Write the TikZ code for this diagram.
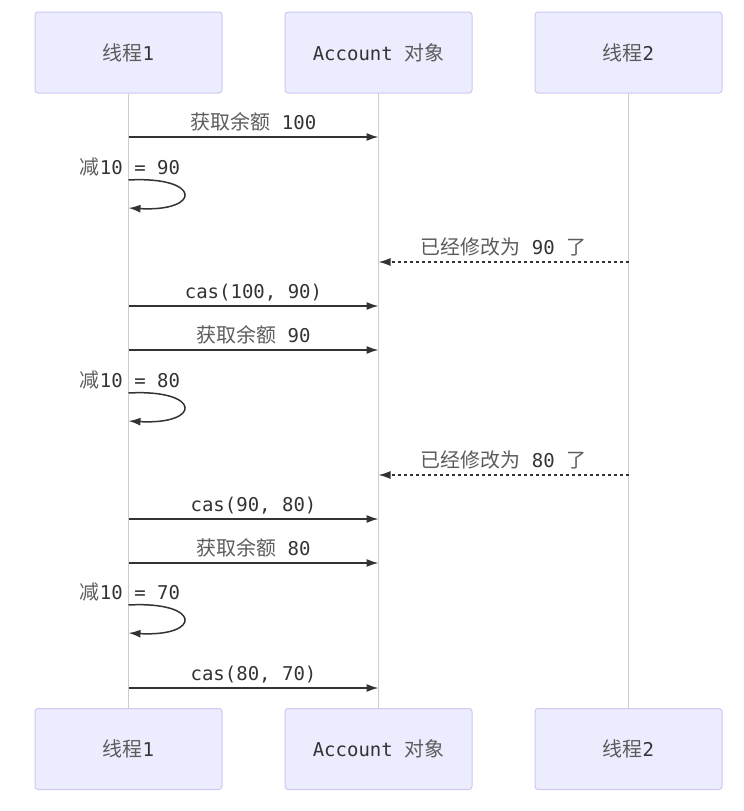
\documentclass[tikz,border=0pt]{standalone}
\usepackage{fontspec}
\setmonofont{DejaVu Sans Mono}
\newfontfamily\cjk[Scale=1.05]{Noto Sans CJK SC}
\usepackage{tikz}
\usetikzlibrary{arrows.meta,positioning}
\definecolor{actorfill}{RGB}{236,236,255}
\definecolor{actorline}{RGB}{206,200,240}
\definecolor{lifegray}{RGB}{204,204,204}
\definecolor{msgdark}{RGB}{51,51,51}
\newcommand{\zh}[1]{{\cjk\color{msgdark!80!white}#1}}

\begin{document}
\begin{tikzpicture}[x=1pt, y=-1pt, font=\fontsize{19}{22}\selectfont\ttfamily,
  actor/.style={draw=actorline, fill=actorfill, rounded corners=3pt, line width=1pt,
    minimum width=187pt, minimum height=81pt, inner sep=0pt, text=msgdark},
  life/.style={draw=lifegray, line width=1pt},
  msg/.style={draw=msgdark, line width=1.5pt, -{Latex[length=12pt,width=8pt]}},
  reply/.style={msg, dash pattern=on 3pt off 3pt},
  lbl/.style={anchor=base, yshift=8pt, inner sep=0pt, text=msgdark}]

\useasboundingbox (0,0) rectangle (744,811);

% 1. Actors (top and bottom)
\node[actor] (t1) at (128.5,52.5) {\zh{线程}1};
\node[actor] (acc) at (378.5,52.5) {Account \zh{对象}};
\node[actor] (t2) at (628.5,52.5) {\zh{线程}2};
\node[actor] (t1b) at (128.5,749) {\zh{线程}1};
\node[actor] (accb) at (378.5,749) {Account \zh{对象}};
\node[actor] (t2b) at (628.5,749) {\zh{线程}2};

% 2. Lifelines
\draw[life] (t1) -- (t1b);
\draw[life] (acc) -- (accb);
\draw[life] (t2) -- (t2b);

% 3. First round
\coordinate (g1s) at (128.5,137); \coordinate (g1e) at (378.5,137);
\draw[msg] (g1s) -- node[lbl] (g1l) {\zh{获取余额} 100} (g1e);
\coordinate (d1s) at (128.5,180); \coordinate (d1e) at (128.5,208);
\node[anchor=base, inner sep=0pt, text=msgdark] (d1l) at (130,174) {\zh{减}10 = 90};
\draw[msg] (d1s) .. controls (202,176) and (202,212) .. (d1e);
\coordinate (u1s) at (628.5,262); \coordinate (u1e) at (378.5,262);
\draw[reply] (u1s) -- node[lbl] (u1l) {\zh{已经修改为} 90 \zh{了}} (u1e);
\coordinate (c1s) at (128.5,306); \coordinate (c1e) at (378.5,306);
\draw[msg] (c1s) -- node[lbl] (c1l) {cas(100, 90)} (c1e);

% 4. Second round
\coordinate (g2s) at (128.5,350); \coordinate (g2e) at (378.5,350);
\draw[msg] (g2s) -- node[lbl] (g2l) {\zh{获取余额} 90} (g2e);
\coordinate (d2s) at (128.5,393); \coordinate (d2e) at (128.5,421);
\node[anchor=base, inner sep=0pt, text=msgdark] (d2l) at (130,387) {\zh{减}10 = 80};
\draw[msg] (d2s) .. controls (202,389) and (202,425) .. (d2e);
\coordinate (u2s) at (628.5,475); \coordinate (u2e) at (378.5,475);
\draw[reply] (u2s) -- node[lbl] (u2l) {\zh{已经修改为} 80 \zh{了}} (u2e);
\coordinate (c2s) at (128.5,519); \coordinate (c2e) at (378.5,519);
\draw[msg] (c2s) -- node[lbl] (c2l) {cas(90, 80)} (c2e);

% 5. Third round
\coordinate (g3s) at (128.5,563); \coordinate (g3e) at (378.5,563);
\draw[msg] (g3s) -- node[lbl] (g3l) {\zh{获取余额} 80} (g3e);
\coordinate (d3s) at (128.5,605); \coordinate (d3e) at (128.5,633);
\node[anchor=base, inner sep=0pt, text=msgdark] (d3l) at (130,599) {\zh{减}10 = 70};
\draw[msg] (d3s) .. controls (202,601) and (202,637) .. (d3e);
\coordinate (c3s) at (128.5,688); \coordinate (c3e) at (378.5,688);
\draw[msg] (c3s) -- node[lbl] (c3l) {cas(80, 70)} (c3e);

\end{tikzpicture}
\end{document}
